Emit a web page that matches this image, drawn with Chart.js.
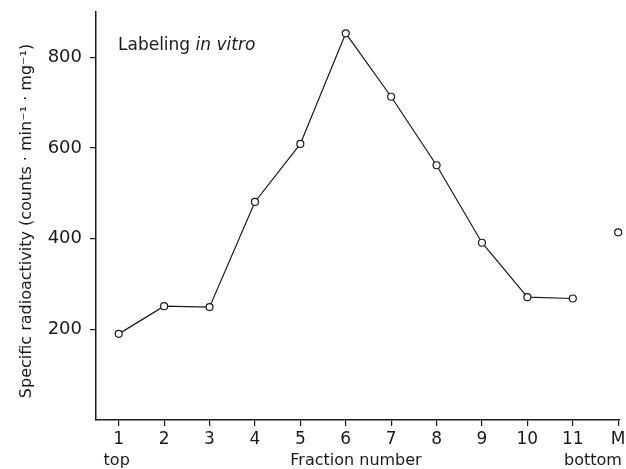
<!DOCTYPE html>
<html>
<head>
<meta charset="utf-8">
<script src="https://cdn.jsdelivr.net/npm/chart.js@4.4.1/dist/chart.umd.min.js"></script>
<style>
  body { margin: 0; background: #fff; }
  canvas { display: block; }
</style>
</head>
<body>
<canvas id="fractionChart" width="626" height="469"></canvas>
<script>
// Chart data
const fractionLabels = ['1', '2', '3', '4', '5', '6', '7', '8', '9', '10', '11', 'M'];
const fractionPositions = [1, 2, 3, 4, 5, 6, 7, 8, 9, 10, 11];
const radioactivity = [190, 251, 249, 481, 609, 853, 713, 562, 391, 271, 268];
const markerPosition = [12];
const markerValue = [414];
const yTicks = [200, 400, 600, 800];

const INK = '#1a1a1a';
const FONT = '"DejaVu Sans", sans-serif';

// Free-standing texts (axis captions and the panel label)
const textPlugin = {
    id: 'texts',
    afterDraw(chart) {
        const ctx = chart.ctx;
        const x = chart.scales.x;
        ctx.save();
        ctx.fillStyle = INK;

        // panel label
        ctx.textBaseline = 'alphabetic';
        ctx.textAlign = 'left';
        ctx.font = '17px ' + FONT;
        ctx.fillText('Labeling ', 118, 50);
        const w = ctx.measureText('Labeling ').width;
        ctx.font = 'italic 17px ' + FONT;
        ctx.fillText('in vitro', 118 + w, 50);

        // x captions
        ctx.font = '16px ' + FONT;
        ctx.textAlign = 'center';
        ctx.textBaseline = 'middle';
        ctx.fillText('top', x.getPixelForValue(1) - 2, 461);
        ctx.fillText('Fraction number', 356, 461);
        ctx.fillText('bottom', 593, 461);

        // y title
        ctx.translate(27, 221);
        ctx.rotate(-Math.PI / 2);
        ctx.fillText('Specific radioactivity (counts \u00b7 min\u207b\u00b9 \u00b7 mg\u207b\u00b9)', 0, 0);
        ctx.restore();
    }
};

function renderChart() {
    const ctx = document.getElementById('fractionChart').getContext('2d');

    const pointStyle = {
        pointRadius: 3.5,
        pointBorderWidth: 1.2,
        pointBackgroundColor: '#fff',
        pointBorderColor: INK,
        clip: false
    };

    new Chart(ctx, {
        type: 'line',
        data: {
            datasets: [{
                data: fractionPositions.map((p, i) => ({ x: p, y: radioactivity[i] })),
                borderColor: INK,
                borderWidth: 1.2,
                tension: 0,
                ...pointStyle
            }, {
                data: markerPosition.map((p, i) => ({ x: p, y: markerValue[i] })),
                showLine: false,
                ...pointStyle
            }]
        },
        options: {
            responsive: false,
            animation: false,
            devicePixelRatio: 1,
            layout: { padding: { top: 12, right: 6, left: 0, bottom: 0 } },
            plugins: {
                legend: { display: false },
                tooltip: { enabled: false }
            },
            scales: {
                x: {
                    type: 'linear',
                    min: 0.5,
                    max: 12.04,
                    afterBuildTicks: axis => {
                        axis.ticks = fractionLabels.map((_, i) => ({ value: i + 1 }));
                    },
                    afterFit: axis => {
                        axis.height = 49;
                        axis.paddingLeft = 0;
                        axis.paddingRight = 0;
                    },
                    ticks: {
                        callback: v => fractionLabels[v - 1],
                        color: INK,
                        font: { family: FONT, size: 17 },
                        padding: 3,
                        maxRotation: 0,
                        autoSkip: false
                    },
                    grid: {
                        drawOnChartArea: false,
                        tickLength: 6,
                        color: INK,
                        lineWidth: 1.2
                    },
                    border: { display: true, color: INK, width: 1.5 }
                },
                y: {
                    min: 0,
                    max: 900,
                    afterBuildTicks: axis => {
                        axis.ticks = yTicks.map(v => ({ value: v }));
                    },
                    afterFit: axis => {
                        axis.width = 96;
                        axis.paddingTop = 0;
                        axis.paddingBottom = 0;
                    },
                    ticks: {
                        color: INK,
                        font: { family: FONT, size: 18 },
                        padding: 8
                    },
                    grid: {
                        drawOnChartArea: false,
                        tickLength: 6,
                        color: INK,
                        lineWidth: 1.2
                    },
                    border: { display: true, color: INK, width: 1.5 }
                }
            }
        },
        plugins: [textPlugin]
    });
}

document.addEventListener('DOMContentLoaded', renderChart);
</script>
</body>
</html>
